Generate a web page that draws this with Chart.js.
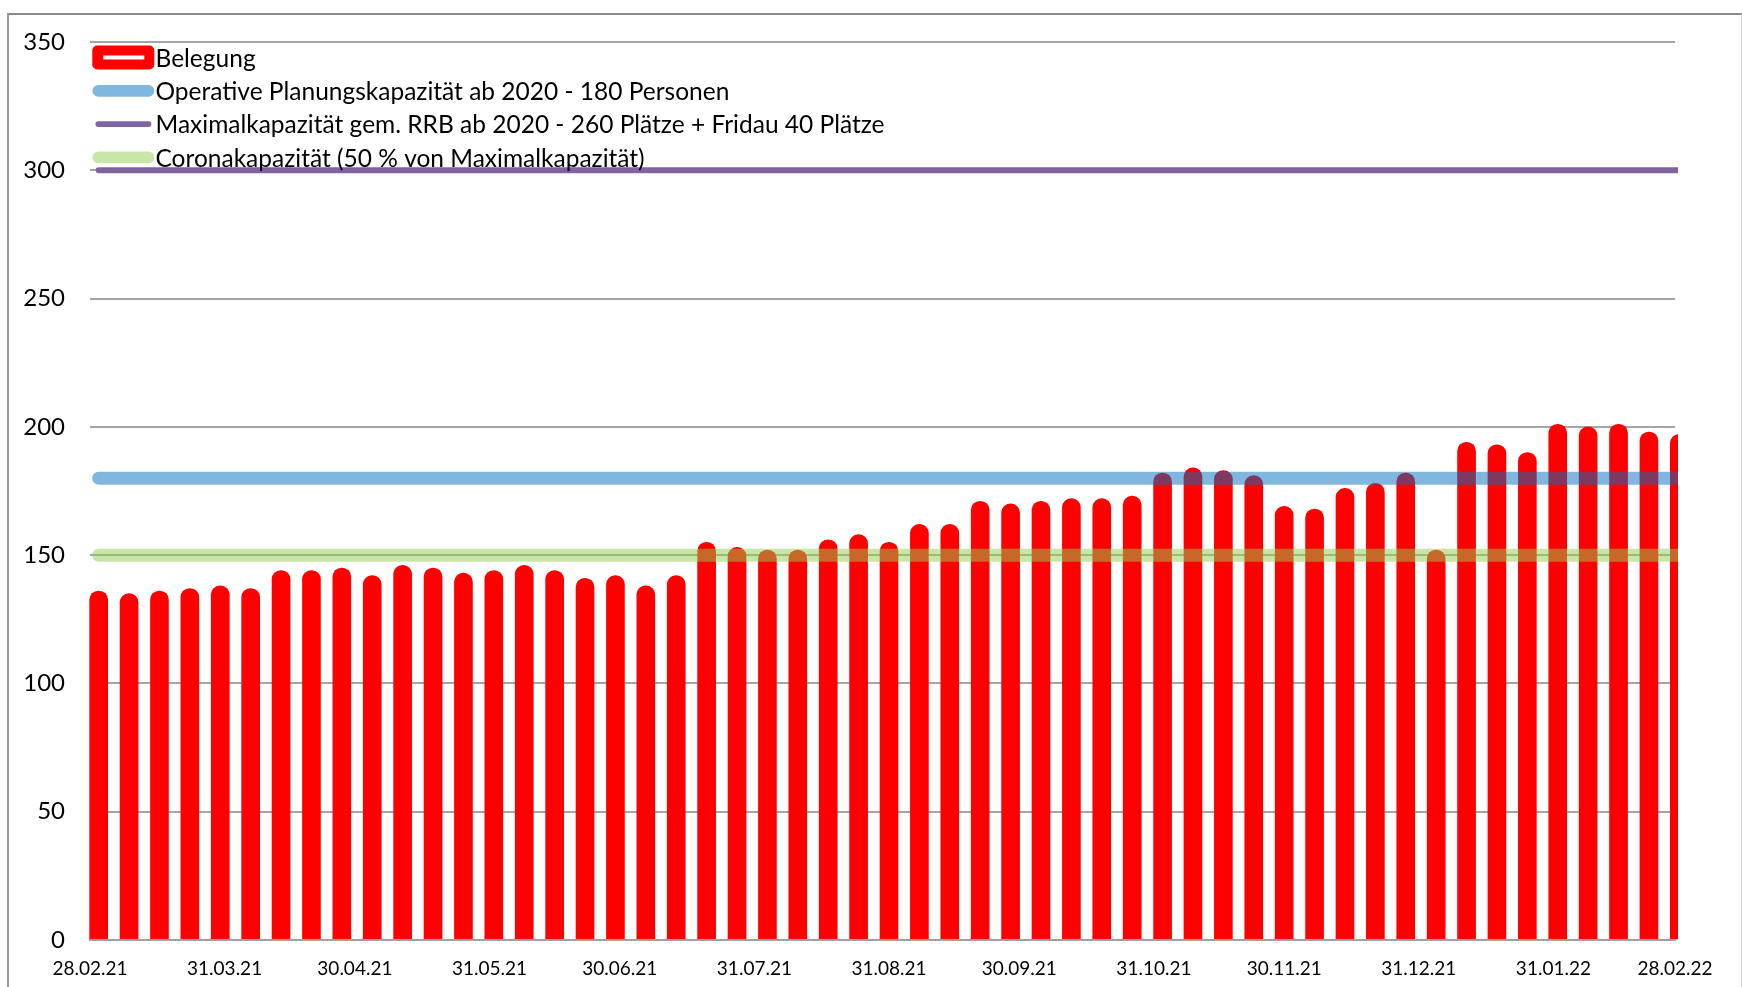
<!DOCTYPE html>
<html>
<head>
<meta charset="utf-8">
<script src="https://cdn.jsdelivr.net/npm/chart.js@4.4.1/dist/chart.umd.min.js"></script>
<style>
  html, body { margin: 0; padding: 0; background: #ffffff; }
  #wrap { position: relative; width: 1742px; height: 987px; overflow: hidden; }
  #c { position: absolute; left: 0; top: 0; }
  #frame { position: absolute; left: 7px; top: 13px; width: 1735px; height: 1000px; box-sizing: border-box;
           border-top: 2px solid #8a8a8a; border-left: 2px solid #9a9a9a; border-right: 1px solid #d8d8d8; pointer-events: none; }
</style>
</head>
<body>
<div id="wrap">
  <canvas id="c" width="1742" height="987"></canvas>
  <div id="frame"></div>
</div>
<script>
// ---- DATA ----
const seriesNames = [
  'Belegung',
  'Operative Planungskapazität ab 2020 - 180 Personen',
  'Maximalkapazität gem. RRB ab 2020 - 260 Plätze + Fridau 40 Plätze',
  'Coronakapazität (50 % von Maximalkapazität)'
];
const weekDates = [
  '02.03.21','09.03.21','16.03.21','23.03.21','30.03.21','06.04.21','13.04.21','20.04.21','27.04.21',
  '04.05.21','11.05.21','18.05.21','25.05.21','01.06.21','08.06.21','15.06.21','22.06.21','29.06.21',
  '06.07.21','13.07.21','20.07.21','27.07.21','03.08.21','10.08.21','17.08.21','24.08.21','31.08.21',
  '07.09.21','14.09.21','21.09.21','28.09.21','05.10.21','12.10.21','19.10.21','26.10.21',
  '02.11.21','09.11.21','16.11.21','23.11.21','30.11.21','07.12.21','14.12.21','21.12.21','28.12.21',
  '04.01.22','11.01.22','18.01.22','25.01.22','01.02.22','08.02.22','15.02.22','22.02.22','01.03.22'
];
const belegung = [
  136,135,136,137,138,137,144,144,145,142,146,145,143,144,146,144,141,142,138,142,
  155,153,152,152,156,158,155,162,162,171,170,171,172,172,173,
  182,184,183,181,169,168,176,178,182,152,194,193,190,201,200,201,198,197
];
const operativeKapazitaet = 180;
const maximalKapazitaet = 300;
const coronaKapazitaet = 150;
const tickLabels = ['28.02.21','31.03.21','30.04.21','31.05.21','30.06.21','31.07.21','31.08.21',
                    '30.09.21','31.10.21','30.11.21','31.12.21','31.01.22','28.02.22'];
const yTicks = { min: 0, max: 350, step: 50 };

// ---- helpers ----
function parseDate(s) {
  const [d, m, y] = s.split('.').map(Number);
  return Date.UTC(2000 + y, m - 1, d);
}
const axisStart = parseDate(tickLabels[0]);
const dayOf = s => Math.round((parseDate(s) - axisStart) / 86400000);
const tickDays = tickLabels.map(dayOf);
const weekDays = weekDates.map(dayOf);
const constLine = v => [{ x: weekDays[0], y: v }, { x: weekDays[weekDays.length - 1], y: v }];

const FONT = 'Lato';
const clipBox = { left: 6, top: 60, right: 3, bottom: 4 };

const legendOverlay = {
  id: 'legendOverlay',
  afterDraw(chart) {
    const ctx = chart.ctx;
    const area = chart.chartArea;
    const x0 = area.left + 2.3, x1 = area.left + 64.3;
    ctx.save();
    chart.data.datasets.forEach((ds, i) => {
      const cy = area.top + 15.5 + i * 33.3;
      if (ds.type === 'bar') {
        ctx.fillStyle = ds.backgroundColor;
        ctx.beginPath();
        ctx.roundRect(x0, cy - 12, x1 - x0, 24, 5);
        ctx.fill();
        ctx.strokeStyle = '#ffffff';
        ctx.lineWidth = 4;
        ctx.lineCap = 'butt';
        ctx.beginPath();
        ctx.moveTo(x0 + 11, cy); ctx.lineTo(x1 - 10, cy);
        ctx.stroke();
      } else {
        ctx.strokeStyle = ds.borderColor;
        ctx.lineWidth = ds.borderWidth > 8 ? ds.borderWidth - 1.3 : ds.borderWidth - 0.3;
        ctx.lineCap = 'round';
        ctx.beginPath();
        ctx.moveTo(x0 + 6, cy); ctx.lineTo(x1 - 5.8, cy);
        ctx.stroke();
      }
      ctx.fillStyle = '#000000';
      ctx.font = '24.5px ' + FONT;
      ctx.textAlign = 'left';
      ctx.textBaseline = 'alphabetic';
      ctx.fillText(ds.label, x1 + 1.2, cy + 9.2);
    });
    ctx.restore();
  }
};

function draw() {
  Chart.defaults.font.family = FONT;
  Chart.defaults.color = '#000000';
  new Chart(document.getElementById('c'), {
    type: 'bar',
    data: {
      datasets: [
        {
          type: 'bar', label: seriesNames[0],
          data: weekDays.map((d, i) => ({ x: d, y: belegung[i] })),
          backgroundColor: '#FF0000', borderWidth: 0,
          barThickness: 18, borderRadius: 9, borderSkipped: 'start',
          order: 2, clip: clipBox
        },
        {
          type: 'line', label: seriesNames[1], data: constLine(operativeKapazitaet),
          borderColor: 'rgba(0,112,192,0.5)', borderWidth: 13, borderCapStyle: 'round',
          pointRadius: 0, fill: false, order: 1, clip: clipBox
        },
        {
          type: 'line', label: seriesNames[2], data: constLine(maximalKapazitaet),
          borderColor: '#8064A2', borderWidth: 6, borderCapStyle: 'round',
          pointRadius: 0, fill: false, order: 1, clip: clipBox
        },
        {
          type: 'line', label: seriesNames[3], data: constLine(coronaKapazitaet),
          borderColor: 'rgba(146,208,80,0.5)', borderWidth: 13, borderCapStyle: 'round',
          pointRadius: 0, fill: false, order: 1, clip: clipBox
        }
      ]
    },
    options: {
      responsive: false,
      animation: false,
      layout: { padding: { top: 42, right: 67, left: 0, bottom: 0 } },
      plugins: { legend: { display: false }, tooltip: { enabled: false } },
      scales: {
        x: {
          type: 'linear', min: tickDays[0], max: tickDays[tickDays.length - 1], offset: false,
          grid: { display: false, drawTicks: false },
          border: { display: true, color: '#a0a0a0', width: 2, z: 1 },
          ticks: {
            autoSkip: false, maxRotation: 0, minRotation: 0, padding: 17,
            font: { size: 19, family: FONT }, color: '#000000',
            callback: (v, i) => tickLabels[i]
          },
          afterBuildTicks: s => { s.ticks = tickDays.map(v => ({ value: v })); },
          afterFit: s => { s.height = 47; }
        },
        y: {
          min: yTicks.min, max: yTicks.max,
          grid: { color: '#a5a5a5', lineWidth: 2, drawTicks: false },
          border: { display: false },
          ticks: { stepSize: yTicks.step, padding: 25, font: { size: 24, family: FONT }, color: '#000000' },
          afterFit: s => { s.width = 90; }
        }
      }
    },
    plugins: [legendOverlay]
  });
}

if (document.fonts && document.fonts.load) {
  Promise.all([document.fonts.load('24px Lato'), document.fonts.load('19px Lato')])
    .then(draw, draw);
} else { draw(); }
</script>
</body>
</html>
